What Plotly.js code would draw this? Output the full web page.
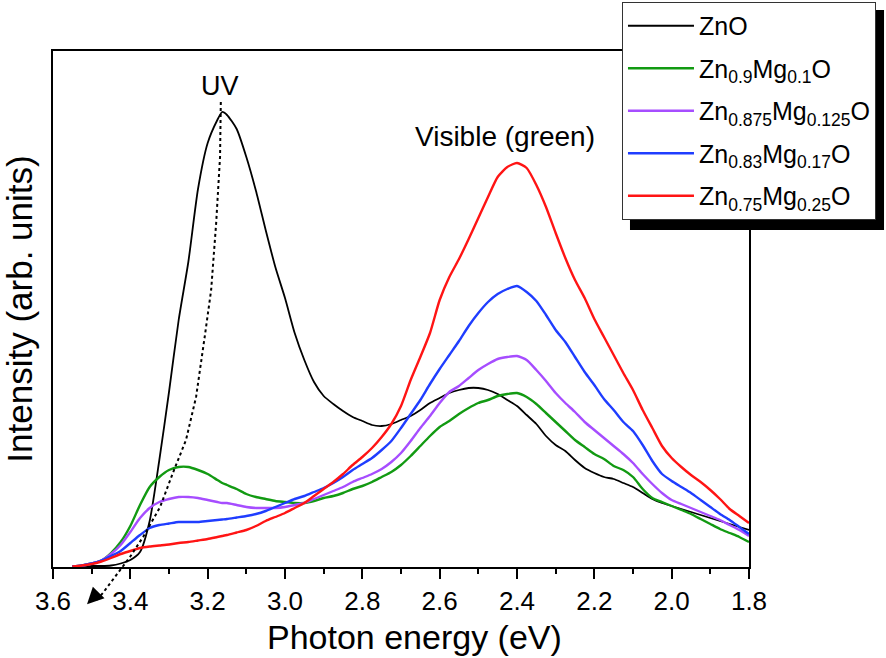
<!DOCTYPE html>
<html>
<head>
<meta charset="utf-8">
<script src="https://cdn.plot.ly/plotly-3.0.1.min.js"></script>
<style>html,body{margin:0;padding:0;background:#fff;}#chart{width:886px;height:658px;}</style>
</head>
<body>
<div id="chart"></div>
<script>
// Photon energy (eV)
var energy = [3.55,3.525,3.5,3.475,3.45,3.425,3.4,3.375,3.35,3.325,3.3,3.275,3.25,3.225,3.2,3.175,3.1625,3.15,3.125,3.1,3.075,3.05,3.025,3.0,2.975,2.95,2.925,2.9,2.875,2.85,2.825,2.8,2.775,2.75,2.725,2.7,2.675,2.65,2.625,2.6,2.575,2.55,2.525,2.5,2.475,2.45,2.425,2.4,2.375,2.35,2.325,2.3,2.275,2.25,2.225,2.2,2.175,2.15,2.125,2.1,2.075,2.05,2.025,2.0,1.975,1.95,1.925,1.9,1.875,1.85,1.825,1.8];

// Intensity (arb. units)
var znO = [0.5,0.5,1,1,1.5,3.5,7,15,46,107,175,247,305,378,424,447,455,452,438,410,376,337,300,269,234,207,185,171,163,156,150,146,142,141,143,147,151,157,164,169,174,177,179,179,177,173,167,161,152,143,131,122,116,107,99,94,90,88,84,80,74,68,64,61,58,55,52,49,46,43,40,37];
var zn09 = [0.5,1.5,3.5,6.5,14,25,41,62,80,90,97,100,100,97,93,87,84,82,78,73,70,68,66,65,64,64,66,69,71,74,78,81,85,90,95,102,111,121,131,140,146,153,159,164,167,171,173,174,170,163,154,145,136,127,120,113,108,101,97,90,78,69,65,61,57,53,48,43,38,34,30,25];
var zn0875 = [0.5,1.5,3.5,6.5,13,22,35,49,59,65,68,70,70,69,67,65,64,64,62,60,59,59,59,60,62,64,68,72,76,80,85,89,93,98,105,114,126,139,151,164,175,181,189,197,203,208,210,211,207,197,186,174,164,155,145,137,129,121,113,104,93,83,74,67,63,59,55,51,47,42,37,31];
var zn083 = [0.5,1.5,3.5,6.5,11,16,24,32,39,42,43.5,45,45,45,46,47,47.5,48,49.5,51,53,56,60,64,68,71,75,79,84,90,97,103,109,117,126,139,153,167,183,198,212,226,241,254,265,273,278,281,275,266,252,237,225,210,195,182,168,157,145,136,122,106,93,86,80,74,67,60,53,47,40,33];
var zn075 = [0.5,1.5,3,5.5,9,13,16,19,20.5,21.5,22.5,24,25,26.5,28,30,31,32,34.5,37,41,46,50,54,59,64,71,78,85,93,102,110,119,130,143,161,187,210,234,267,290,308,328,349,370,390,400,404,399,382,360,334,309,287,269,248,230,212,194,177,157,139,121,109,100,92,85,77,68,58,51,44];

var seriesNames = ['ZnO','Zn<sub>0.9</sub>Mg<sub>0.1</sub>O','Zn<sub>0.875</sub>Mg<sub>0.125</sub>O','Zn<sub>0.83</sub>Mg<sub>0.17</sub>O','Zn<sub>0.75</sub>Mg<sub>0.25</sub>O'];
var seriesValues = [znO, zn09, zn0875, zn083, zn075];
var seriesColors = ['#000000','#129a12','#a64dff','#1f3dff','#ff1414'];

// x tick labels
var tickValues = [3.6,3.4,3.2,3.0,2.8,2.6,2.4,2.2,2.0,1.8];
var tickLabels = ['3.6','3.4','3.2','3.0','2.8','2.6','2.4','2.2','2.0','1.8'];

// dotted guide following the UV peak (energy, intensity; negative = below axis)
var guideE = [3.166,3.168,3.178,3.191,3.207,3.230,3.256,3.290,3.323,3.367,3.401,3.440,3.471,3.492];
var guideI = [465,410,344,277,232,170,127,94,60,30,10,-10,-26,-35];

var yMax = 516;
var FONT = 'Liberation Sans, Arial, Helvetica, sans-serif';

var traces = seriesValues.map(function(v, i){
  return {
    x: energy, y: v, type: 'scatter', mode: 'lines',
    name: seriesNames[i], legendgroup: 'g' + i,
    line: {color: seriesColors[i], width: i === 0 ? 1.8 : 2.4, shape: 'spline', smoothing: 0.6},
    hoverinfo: 'skip'
  };
});

var path = 'M' + guideE.map(function(e, i){ return e + ',' + (guideI[i] / yMax); }).join(' L');

var layout = {
  width: 886, height: 658,
  margin: {l: 53, r: 137, t: 51, b: 91, pad: 0, autoexpand: false},
  paper_bgcolor: '#ffffff', plot_bgcolor: '#ffffff',
  font: {family: FONT, color: '#000'},
  showlegend: true,
  xaxis: {
    range: [3.6, 1.8], tickmode: 'array', tickvals: tickValues, ticktext: tickLabels,
    ticks: 'outside', ticklen: 10, tickwidth: 2, tickcolor: '#000',
    showline: true, linewidth: 2, linecolor: '#000', mirror: true,
    showgrid: false, zeroline: false, automargin: false,
    tickfont: {family: FONT, size: 26, color: '#000'},
    minor: {ticks: 'outside', ticklen: 5, tickwidth: 2, tickcolor: '#000', dtick: 0.1, tick0: 1.8, showgrid: false}
  },
  yaxis: {
    range: [0, yMax], showticklabels: false, ticks: '',
    showline: true, linewidth: 2, linecolor: '#000', mirror: true,
    showgrid: false, zeroline: false, automargin: false,
    title: {text: 'Intensity (arb. units)', font: {family: FONT, size: 35, color: '#000'}, standoff: 8}
  },
  legend: {
    x: 0.8175, y: 1.095, xanchor: 'left', yanchor: 'top',
    bgcolor: '#ffffff', bordercolor: '#333333', borderwidth: 1,
    font: {family: FONT, size: 25, color: '#000'},
    itemwidth: 66, tracegroupgap: 7, traceorder: 'grouped'
  },
  shapes: [
    {type: 'rect', xref: 'paper', yref: 'paper', x0: 0.829, x1: 1.194, y0: 0.653, y1: 1.0795,
     fillcolor: '#000', line: {width: 0}, layer: 'above'},
    {type: 'path', xref: 'x', yref: 'paper', path: path, line: {color: '#000', width: 2, dash: 'dot'}, layer: 'above'}
  ],
  annotations: [
    {x: 0.519, y: -0.1357, xref: 'paper', yref: 'paper', xanchor: 'center', yanchor: 'middle',
     text: 'Photon energy (eV)', showarrow: false, font: {family: FONT, size: 34, color: '#000'}},
    {x: 3.168, y: 481, xref: 'x', yref: 'y', text: 'UV', showarrow: false, font: {family: FONT, size: 27, color: '#000'}},
    {x: 2.431, y: 431, xref: 'x', yref: 'y', text: 'Visible (green)', showarrow: false, font: {family: FONT, size: 28, color: '#000'}},
    {x: guideE[guideE.length-1] + 0.02, y: -0.072, xref: 'x', yref: 'paper', text: '', showarrow: true,
     ax: 9, ay: -9, arrowhead: 2, arrowsize: 2.2, arrowwidth: 1.5, arrowcolor: '#000', standoff: 0}
  ]
};

Plotly.newPlot('chart', traces, layout, {displayModeBar: false, staticPlot: true});
</script>
</body>
</html>
